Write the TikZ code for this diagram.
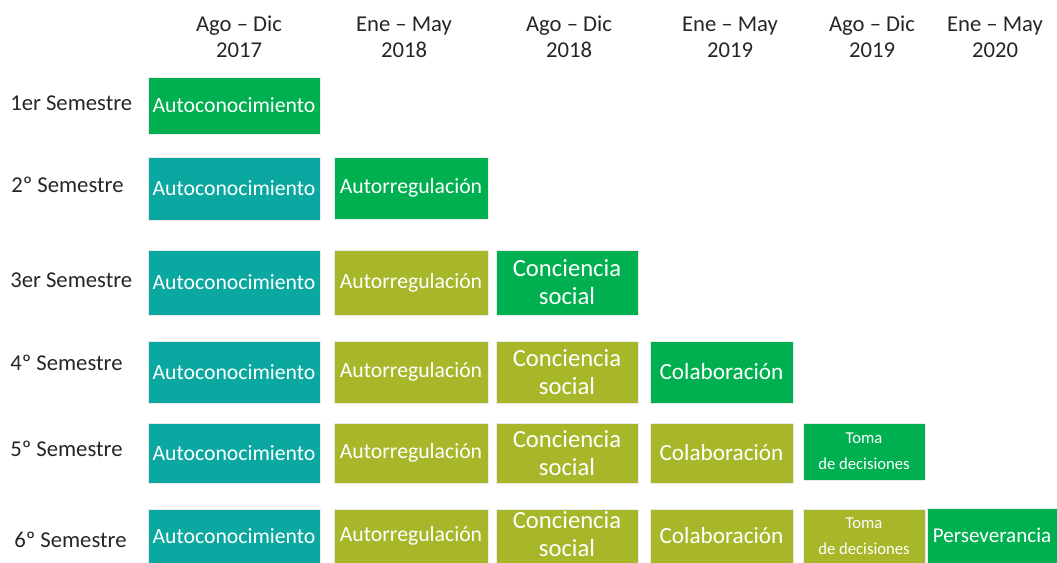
\documentclass[tikz,border=0pt]{standalone}
\usepackage{fontspec}
\setmainfont{Carlito}
\usepackage{tikz}
\usetikzlibrary{positioning}

\definecolor{semgreen}{HTML}{00B050}
\definecolor{semteal}{HTML}{0AA8A0}
\definecolor{semolive}{HTML}{A8B62A}
\definecolor{semtext}{HTML}{262626}

\begin{document}
\begin{tikzpicture}[x=0.75pt, y=-0.75pt,
  box/.style={draw=white!92!black, line width=0.6pt, text=white, inner sep=0pt, align=center},
  greenbox/.style={box, fill=semgreen},
  tealbox/.style={box, fill=semteal},
  olivebox/.style={box, fill=semolive},
  period/.style={text=semtext, align=center, font=\fontsize{17}{19.5}\selectfont},
  semester/.style={text=semtext, anchor=west, inner sep=0pt, font=\fontsize{17}{20}\selectfont},
  autofont/.style={font=\fontsize{16.3}{19}\selectfont},
  concfont/.style={font=\fontsize{18.5}{21}\selectfont},
  colabfont/.style={font=\fontsize{17.4}{21}\selectfont},
  tomafont/.style={font=\fontsize{12.5}{19.5}\selectfont}]
\useasboundingbox (0, 0) rectangle (1057, 562);

% periods
\path (239, 37) node[period] (ago_2017) {Ago -- Dic\\2017};
\path (404, 37) node[period] (ene_2018) {Ene -- May\\2018};
\path (569, 37) node[period] (ago_2018) {Ago -- Dic\\2018};
\path (730, 37) node[period] (ene_2019) {Ene -- May\\2019};
\path (872, 37) node[period] (ago_2019) {Ago -- Dic\\2019};
\path (995, 37) node[period] (ene_2020) {Ene -- May\\2020};

% semesters
\path (10, 103) node[semester] (sem_one) {1er Semestre};
\path (11, 185) node[semester] (sem_two) {2º Semestre};
\path (10, 280) node[semester] (sem_three) {3er Semestre};
\path (10, 363) node[semester] (sem_four) {4º Semestre};
\path (10, 449) node[semester] (sem_five) {5º Semestre};
\path (14, 540) node[semester] (sem_six) {6º Semestre};

% 1er semestre
\path (234, 105.5) node[greenbox, autofont, minimum width=172*0.75pt, minimum height=57*0.75pt] (auto_one) {Autoconocimiento};

% 2o semestre
\path (234, 188.5) node[tealbox, autofont, minimum width=172*0.75pt, minimum height=63*0.75pt] (auto_two) {Autoconocimiento};
\path (411, 188) node[greenbox, autofont, minimum width=154*0.75pt, minimum height=62*0.75pt] (reg_two) {Autorregulación};

% 3er semestre
\path (234, 282.5) node[tealbox, autofont, minimum width=172*0.75pt, minimum height=65*0.75pt] (auto_three) {Autoconocimiento};
\path (411, 282.5) node[olivebox, autofont, minimum width=154*0.75pt, minimum height=65*0.75pt] (reg_three) {Autorregulación};
\path (567, 282.5) node[greenbox, concfont, minimum width=142*0.75pt, minimum height=65*0.75pt] (conc_three) {Conciencia\\social};

% 4o semestre
\path (234, 372) node[tealbox, autofont, minimum width=172*0.75pt, minimum height=62*0.75pt] (auto_four) {Autoconocimiento};
\path (411, 372) node[olivebox, autofont, minimum width=154*0.75pt, minimum height=62*0.75pt] (reg_four) {Autorregulación};
\path (567, 372) node[olivebox, concfont, minimum width=142*0.75pt, minimum height=62*0.75pt] (conc_four) {Conciencia\\social};
\path (721.5, 372) node[greenbox, colabfont, minimum width=143*0.75pt, minimum height=62*0.75pt] (colab_four) {Colaboración};

% 5o semestre
\path (234, 453) node[tealbox, autofont, minimum width=172*0.75pt, minimum height=60*0.75pt] (auto_five) {Autoconocimiento};
\path (411, 453) node[olivebox, autofont, minimum width=154*0.75pt, minimum height=60*0.75pt] (reg_five) {Autorregulación};
\path (567, 453) node[olivebox, concfont, minimum width=142*0.75pt, minimum height=60*0.75pt] (conc_five) {Conciencia\\social};
\path (721.5, 453) node[olivebox, colabfont, minimum width=143*0.75pt, minimum height=60*0.75pt] (colab_five) {Colaboración};
\path (864, 451.5) node[greenbox, tomafont, minimum width=122*0.75pt, minimum height=57*0.75pt] (toma_five) {Toma\\de decisiones};

% 6o semestre
\path (234, 536) node[tealbox, autofont, minimum width=172*0.75pt, minimum height=54*0.75pt] (auto_six) {Autoconocimiento};
\path (411, 536) node[olivebox, autofont, minimum width=154*0.75pt, minimum height=54*0.75pt] (reg_six) {Autorregulación};
\path (567, 536) node[olivebox, minimum width=142*0.75pt, minimum height=54*0.75pt] (conc_six) {};
\path (conc_six.center) node[text=white, align=center, concfont, yshift=1.5pt] (conc_six_text) {Conciencia\\social};
\path (721.5, 536) node[olivebox, colabfont, minimum width=143*0.75pt, minimum height=54*0.75pt] (colab_six) {Colaboración};
\path (864, 536) node[olivebox, tomafont, minimum width=122*0.75pt, minimum height=54*0.75pt] (toma_six) {Toma\\de decisiones};
\path (992, 535.5) node[greenbox, font=\fontsize{15.8}{19}\selectfont, minimum width=130*0.75pt, minimum height=55*0.75pt] (perse_six) {Perseverancia};
\end{tikzpicture}
\end{document}
